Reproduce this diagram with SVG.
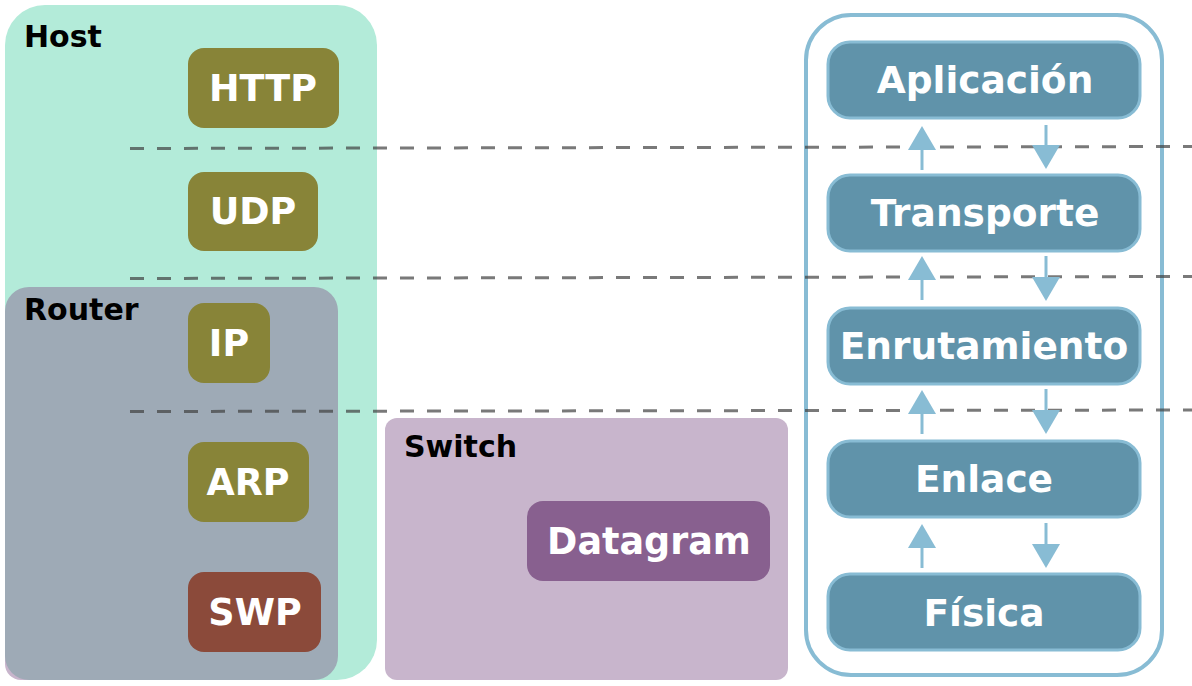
<svg xmlns="http://www.w3.org/2000/svg" width="1192" height="686" viewBox="0 0 1192 686">
<defs>
<style>
.grp{font-family:"DejaVu Sans",sans-serif;font-weight:bold;font-size:30px;fill:#000}
.nt{font-family:"DejaVu Sans",sans-serif;font-weight:bold;font-size:36.5px;fill:#fff;text-anchor:middle}
.lt{font-family:"DejaVu Sans",sans-serif;font-weight:bold;font-size:37.5px;fill:#fff;text-anchor:middle}
.olive{fill:#888438}
.layer{fill:#6093aa;stroke:#88bcd4;stroke-width:3}
.dash{stroke:#404040;stroke-opacity:0.7;stroke-width:3;stroke-dasharray:14 13;fill:none}
.arr{stroke:#88bcd4;stroke-width:3;fill:none}
.head{fill:#88bcd4}
</style>
</defs>
<g id="host">
<rect x="5" y="5" width="372" height="675" rx="40" fill="#b3ebd9"/>
<text class="grp" x="24" y="47">Host</text>
</g>
<g id="switch-under">
<rect x="5" y="420" width="300" height="260" rx="16" fill="#c8b5cc"/>
</g>
<g id="router">
<rect x="5" y="287" width="333" height="393" rx="24" fill="#9eaab6"/>
<text class="grp" x="24" y="320">Router</text>
</g>
<g id="switch">
<rect x="385" y="418" width="403" height="262" rx="12" fill="#c8b5cc"/>
<text class="grp" x="404" y="457">Switch</text>
</g>
<g id="http"><rect class="olive" x="188" y="48" width="151" height="80" rx="16"/><text class="nt" x="263" y="101">HTTP</text></g>
<g id="udp"><rect class="olive" x="188" y="172" width="130" height="79" rx="16"/><text class="nt" x="253" y="224">UDP</text></g>
<g id="ip"><rect class="olive" x="188" y="303" width="82" height="80" rx="16"/><text class="nt" x="229" y="356">IP</text></g>
<g id="arp"><rect class="olive" x="188" y="442" width="121" height="80" rx="16"/><text class="nt" x="248" y="495">ARP</text></g>
<g id="swp"><rect x="188" y="572" width="133" height="80" rx="16" fill="#8b4a3a"/><text class="nt" x="255" y="625">SWP</text></g>
<g id="datagram"><rect x="527" y="501" width="243" height="80" rx="16" fill="#88608f"/><text class="nt" x="649" y="554">Datagram</text></g>
<g id="stack">
<rect x="806" y="15" width="356" height="660" rx="45" fill="#fff" stroke="#88bcd4" stroke-width="4"/>
</g>
<g id="aplicacion"><rect class="layer" x="828" y="42" width="312" height="76" rx="22"/><text class="lt" x="985" y="93">Aplicación</text></g>
<g id="transporte"><rect class="layer" x="828" y="175" width="312" height="76" rx="22"/><text class="lt" x="985" y="226">Transporte</text></g>
<g id="enrutamiento"><rect class="layer" x="828" y="308" width="312" height="76" rx="22"/><text class="lt" x="984" y="359">Enrutamiento</text></g>
<g id="enlace"><rect class="layer" x="828" y="441" width="312" height="76" rx="22"/><text class="lt" x="984" y="492">Enlace</text></g>
<g id="fisica"><rect class="layer" x="828" y="574" width="312" height="76" rx="22"/><text class="lt" x="984" y="626">Física</text></g>
<g id="connectors">
<path class="dash" d="M130 148.5 L1192 146.5"/>
<path class="dash" d="M130 278.5 L1192 276.5"/>
<path class="dash" d="M130 411.5 L1192 410"/>
<path class="arr" d="M922 170 V148"/><path class="head" d="M908 150 L922 126 L936 150 Z"/>
<path class="arr" d="M1046 125 V148"/><path class="head" d="M1032 145 L1046 169 L1060 145 Z"/>
<path class="arr" d="M922 300 V278"/><path class="head" d="M908 280 L922 256 L936 280 Z"/>
<path class="arr" d="M1046 256 V278"/><path class="head" d="M1032 277 L1046 301 L1060 277 Z"/>
<path class="arr" d="M922 434 V412"/><path class="head" d="M908 414 L922 390 L936 414 Z"/>
<path class="arr" d="M1046 389 V411"/><path class="head" d="M1032 410 L1046 434 L1060 410 Z"/>
<path class="arr" d="M922 568 V546"/><path class="head" d="M908 548 L922 524 L936 548 Z"/>
<path class="arr" d="M1046 523 V545"/><path class="head" d="M1032 544 L1046 568 L1060 544 Z"/>
</g>
</svg>
